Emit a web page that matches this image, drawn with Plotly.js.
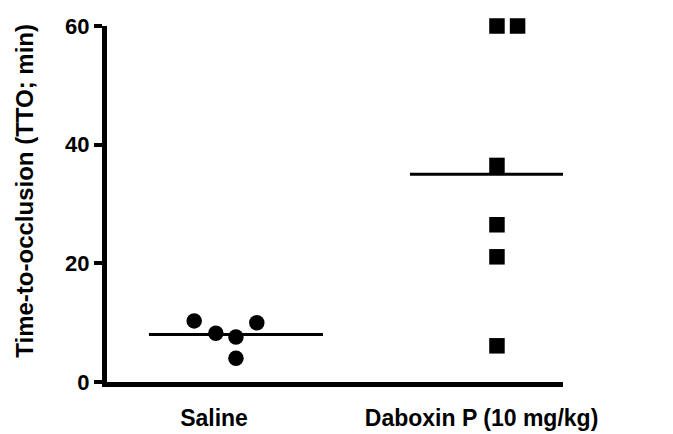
<!DOCTYPE html>
<html>
<head>
<meta charset="utf-8">
<script src="https://cdn.plot.ly/plotly-3.0.1.min.js"></script>
<style>html,body{margin:0;padding:0;background:#fff;}#chart{width:673px;height:434px;}</style>
</head>
<body>
<div id="chart"></div>
<script>
// Data
const categories = ["Saline", "Daboxin P (10 mg/kg)"];
const categoryPos = [1, 2];
const salineValues = [10.3, 8.2, 7.6, 4.0, 10.0];
const salineOffsets = [-0.16, -0.077, 0, 0, 0.08];
const daboxinValues = [60, 60, 36.5, 26.5, 21.1, 6.1];
const daboxinOffsets = [0, 0.079, 0, 0, 0, 0];
const yTicks = [0, 20, 40, 60];

const meanHalfWidth = 1 / 3;
function mean(a) { return a.reduce((s, v) => s + v, 0) / a.length; }

const salineMean = mean(salineValues);
const daboxinMean = mean(daboxinValues);

const traces = [
  {
    type: "scatter", mode: "lines",
    x: [categoryPos[0] - meanHalfWidth, categoryPos[0] + meanHalfWidth],
    y: [salineMean, salineMean],
    line: {color: "#000", width: 3}, hoverinfo: "skip", showlegend: false
  },
  {
    type: "scatter", mode: "lines",
    x: [categoryPos[1] - meanHalfWidth, categoryPos[1] + meanHalfWidth],
    y: [daboxinMean, daboxinMean],
    line: {color: "#000", width: 3}, hoverinfo: "skip", showlegend: false
  },
  {
    type: "scatter", mode: "markers", name: categories[0],
    x: salineValues.map((v, i) => categoryPos[0] + salineOffsets[i]),
    y: salineValues,
    marker: {symbol: "circle", size: 15.5, color: "#000"},
    cliponaxis: false, showlegend: false
  },
  {
    type: "scatter", mode: "markers", name: categories[1],
    x: daboxinValues.map((v, i) => categoryPos[1] + daboxinOffsets[i]),
    y: daboxinValues,
    marker: {symbol: "square", size: 15.5, color: "#000"},
    cliponaxis: false, showlegend: false
  }
];

const layout = {
  width: 673, height: 434,
  margin: {l: 107, r: 110, t: 26, b: 52},
  paper_bgcolor: "#fff", plot_bgcolor: "#fff",
  font: {family: "Arial, 'Liberation Sans', sans-serif", color: "#000"},
  showlegend: false,
  xaxis: {
    range: [0.506, 2.253],
    showgrid: false, zeroline: false,
    showline: true, linecolor: "#000", linewidth: 5,
    ticks: "",
    tickvals: [0.916, 1.941],
    ticktext: categories.map(c => "<b>" + c + "</b>"),
    tickfont: {size: 23, color: "#000"},
    ticklabelstandoff: 11
  },
  yaxis: {
    range: [0, 60],
    showgrid: false, zeroline: false,
    showline: true, linecolor: "#000", linewidth: 5,
    ticks: "outside", ticklen: 8, tickwidth: 4, tickcolor: "#000",
    tickvals: yTicks,
    ticktext: yTicks.map(t => "<b>" + t + "</b>"),
    tickfont: {size: 22, color: "#000"}
  },
  annotations: [{
    text: "<b>Time-to-occlusion (TTO; min)</b>",
    xref: "paper", yref: "paper",
    x: -0.18, y: 0.537,
    xanchor: "center", yanchor: "middle",
    textangle: -90, showarrow: false,
    font: {size: 24, color: "#000"}
  }]
};

Plotly.newPlot("chart", traces, layout, {displayModeBar: false, staticPlot: true});
</script>
</body>
</html>
